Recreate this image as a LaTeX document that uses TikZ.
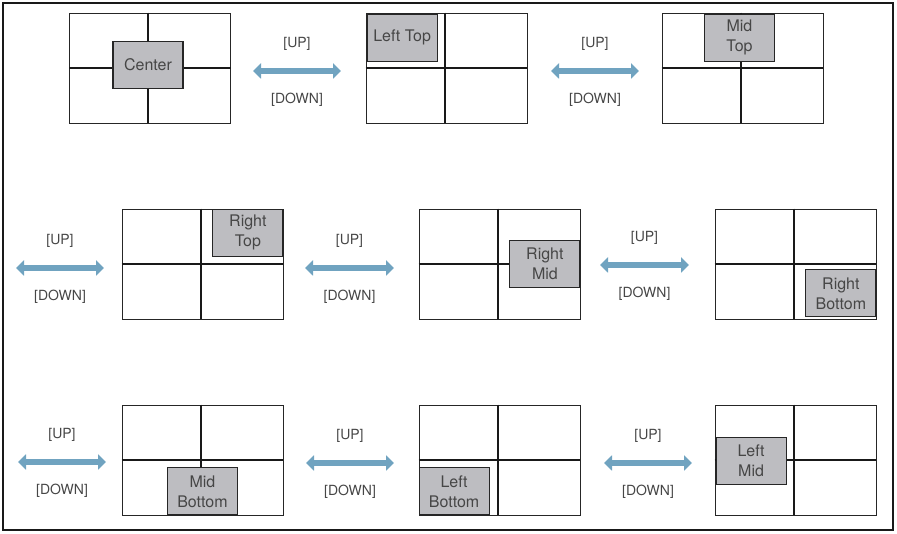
\documentclass[tikz,border=0pt]{standalone}
\usepackage{fontspec}
\setmainfont{TeX Gyre Heros}
\usetikzlibrary{arrows.meta}
\definecolor{zonegray}{RGB}{189,189,193}
\definecolor{swapblue}{RGB}{112,163,192}
\definecolor{txtgray}{RGB}{70,70,70}

\tikzset{
  screen/.style={draw=black!85, line width=.9pt, minimum width=161pt,
    minimum height=110pt, inner sep=0pt},
  divider/.style={line width=2pt, black!90},
  zone/.style={draw=black!85, fill=zonegray, line width=1.1pt,
    minimum width=70pt, minimum height=47pt, inner sep=1pt, align=center,
    font=\fontsize{16}{20}\selectfont, text=txtgray},
  key/.style={font=\fontsize{14}{16}\selectfont, text=txtgray},
  swap/.style={line width=5.5pt, swapblue,
    {Triangle[length=8pt,width=15pt]}-{Triangle[length=8pt,width=15pt]}},
}

\begin{document}
\begin{tikzpicture}[x=1pt,y=-1pt]
  \useasboundingbox (0,0) rectangle (897,534);
  \draw[line width=2pt, black!90] (3,3) rectangle (893,530);

  % screens
  \node[screen] (s1) at (150,68) {};
  \node[screen] (s2) at (446.5,68) {};
  \node[screen] (s3) at (742.5,68) {};
  \node[screen] (s4) at (202.5,264) {};
  \node[screen] (s5) at (499.5,264) {};
  \node[screen] (s6) at (795.5,264) {};
  \node[screen] (s7) at (202.5,460) {};
  \node[screen] (s8) at (499.5,460) {};
  \node[screen] (s9) at (795.5,460) {};
  \foreach \s in {s1,s2,s3,s4,s5,s6,s7,s8,s9} {
    \draw[divider] ([xshift=-2pt]\s.north) -- ([xshift=-2pt]\s.south);
    \draw[divider] (\s.west) -- (\s.east);
  }

  % zones
  \node[zone] (ce) at ([xshift=-2pt,yshift=3pt]s1.center) {Center};
  \node[zone, anchor=north west] (lt) at ([shift={(1,1)}]s2.north west) {Left Top};
  \node[zone, anchor=north] (mt) at ([shift={(-3,1)}]s3.north) {Mid\\Top};
  \node[zone, anchor=north east] (rt) at (s4.north east) {Right\\Top};
  \node[zone, anchor=east] (rm) at (s5.east) {Right\\Mid};
  \node[zone, anchor=south east] (rb) at ([shift={(0,-2)}]s6.south east) {Right\\Bottom};
  \node[zone, anchor=south] (mb) at (s7.south) {Mid\\Bottom};
  \node[zone, anchor=south west] (lb) at (s8.south west) {Left\\Bottom};
  \node[zone, anchor=west] (lm) at ([shift={(1,1)}]s9.west) {Left\\Mid};

  % up / down arrows
  \coordinate (a1w) at (253,71);   \coordinate (a1e) at (341,71);
  \coordinate (a2w) at (551,71);   \coordinate (a2e) at (639,71);
  \coordinate (a3w) at (16,268);   \coordinate (a3e) at (104,268);
  \coordinate (a4w) at (305,268);  \coordinate (a4e) at (394,268);
  \coordinate (a5w) at (600,265);  \coordinate (a5e) at (689,265);
  \coordinate (a6w) at (18,462);   \coordinate (a6e) at (106,462);
  \coordinate (a7w) at (306,463);  \coordinate (a7e) at (394,463);
  \coordinate (a8w) at (604,463);  \coordinate (a8e) at (692,463);
  \foreach \a in {1,...,8} {
    \draw[swap] (a\a w) -- (a\a e)
      node[key, midway, yshift=27pt] (up\a) {[UP]}
      node[key, midway, yshift=-29pt] (dn\a) {[DOWN]};
  }
\end{tikzpicture}
\end{document}
